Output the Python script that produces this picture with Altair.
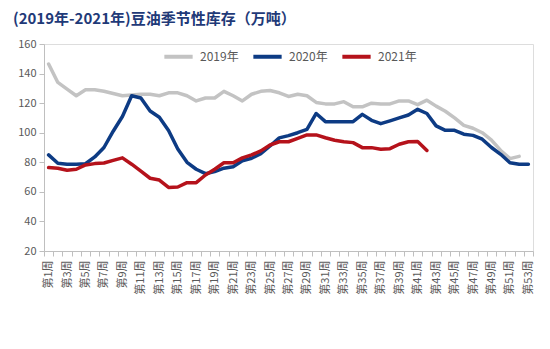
import altair as alt
import pandas as pd

weeks = [f"第{i}周" for i in range(1, 54)]

y2019 = [146.5, 134, 129.5, 125, 129, 129, 128, 126.5, 125, 125.5,
         126, 126, 125, 127, 127, 125, 121.5, 123.5, 123.5, 128,
         125, 121.5, 126, 128, 128.5, 127, 124.5, 126, 125, 120.5,
         119.5, 119.5, 121, 117.5, 117.5, 120, 119.5, 119.5, 121.5, 121.5,
         119, 122, 118, 114.5, 110, 105, 103, 100, 95, 88,
         82.5, 84]
y2020 = [85, 79.3, 78.7, 78.7, 79, 83.6, 90, 101, 111, 125,
         123.5, 114.7, 110.5, 101.5, 89, 80, 75.3, 72.3, 73.7, 76,
         77, 81, 82.7, 85.8, 91, 96.5, 98, 100, 102.3, 113,
         107.5, 107.5, 107.5, 107.5, 112.4, 108.4, 106.1, 108, 110, 112,
         115.8, 113, 104.6, 101.6, 101.6, 99, 98.2, 95.6, 90, 85.4,
         79.7, 78.7, 78.7]
y2021 = [76.4, 76, 74.6, 75.3, 78.2, 79.1, 79.5, 81.3, 83, 78.7,
         74, 69.2, 68, 63, 63.3, 66.2, 66.2, 71.4, 75.3, 79.7,
         79.7, 83, 85, 87.7, 91.7, 93.9, 93.9, 96.2, 98.5, 98.5,
         96.6, 94.9, 93.9, 93.3, 89.9, 89.9, 88.8, 89.2, 92.2, 93.9,
         94, 88]

series_names = ["2019年", "2020年", "2021年"]
series_values = [y2019, y2020, y2021]
series_colors = ["#C3C3C3", "#0D3B84", "#B5121B"]

rows = []
for name, vals in zip(series_names, series_values):
    for w, v in zip(weeks, vals):
        rows.append({"week": w, "year": name, "value": v})
df = pd.DataFrame(rows)

FONT = "Noto Sans CJK SC"

chart = alt.Chart(df).mark_line(strokeWidth=3.5, strokeJoin="round", strokeCap="round").encode(
    x=alt.X("week:O", sort=weeks, bandPosition=0.5,
            scale=alt.Scale(type="band", paddingInner=0, paddingOuter=0),
            axis=alt.Axis(title=None, labelAngle=-90, tickBand="extent",
                          labelExpr="toNumber(replace(replace(datum.value,'第',''),'周','')) % 2 == 1 ? datum.value : ''",
                          labelOverlap=False, labelFontSize=11, labelColor="#595959",
                          labelFont=FONT, labelPadding=4,
                          domainColor="#BFBFBF", tickColor="#BFBFBF", tickSize=5)),
    y=alt.Y("value:Q", scale=alt.Scale(domain=[20, 160], nice=False, zero=False),
            axis=alt.Axis(title=None, values=list(range(20, 161, 20)), grid=False,
                          labelFontSize=11, labelColor="#595959", labelFont=FONT,
                          labelPadding=3, domainColor="#BFBFBF", tickColor="#BFBFBF",
                          tickSize=5)),
    color=alt.Color("year:N", scale=alt.Scale(domain=series_names, range=series_colors),
                    legend=alt.Legend(title=None, orient="none", direction="horizontal",
                                      legendX=118, legendY=-4, symbolType="stroke",
                                      symbolStrokeWidth=4, symbolSize=800,
                                      labelFontSize=12, labelColor="#595959", labelFont=FONT,
                                      columnPadding=6, labelOffset=5)),
).properties(
    width=489, height=207,
    autosize=alt.AutoSizeParams(type="none"),
    padding={"left": 44, "top": 44, "right": 17, "bottom": 98},
    title=alt.TitleParams("(2019年-2021年)豆油季节性库存（万吨）", anchor="start", frame="group",
                          dx=-31, offset=11, fontSize=15, fontWeight="bold",
                          color="#1F3A78", font=FONT),
).configure_view(stroke=None).configure(background="white")

chart.save("out.html", embed_options={"renderer": "svg", "actions": False})
